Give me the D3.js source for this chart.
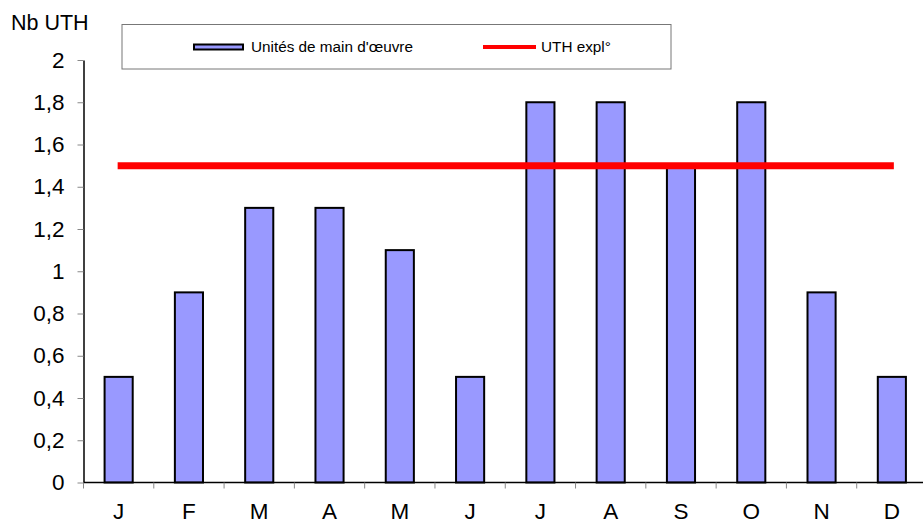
<!DOCTYPE html>
<html>
<head>
<meta charset="utf-8">
<script src="https://cdnjs.cloudflare.com/ajax/libs/d3/7.8.5/d3.min.js"></script>
<style>
  body { margin: 0; background: #fff; }
  text { font-family: "Liberation Sans", Arial, sans-serif; }
</style>
</head>
<body>
<script>
var months = ["J","F","M","A","M","J","J","A","S","O","N","D"];
var uth = [0.5, 0.9, 1.3, 1.3, 1.1, 0.5, 1.8, 1.8, 1.5, 1.8, 0.9, 0.5];
var uthExpl = 1.5;
var yTicks = [0, 0.2, 0.4, 0.6, 0.8, 1, 1.2, 1.4, 1.6, 1.8, 2];

function init() {
    var w = 923, h = 519;
    var pLeft = 83.5, pRight = 927, pTop = 60, pBottom = 482.5;

    var svg = d3.select("body").append("svg")
        .attr("width", w)
        .attr("height", h);

    var x = d3.scaleBand()
        .domain(d3.range(months.length))
        .range([pLeft, pRight])
        .paddingInner(0.6)
        .paddingOuter(0.3);
    var band = d3.scaleBand()
        .domain(d3.range(months.length))
        .range([pLeft, pRight]);
    var y = d3.scaleLinear().domain([0, 2]).range([pBottom, pTop]);

    // y axis
    var fmt = function(d) { return d3.format(".1~f")(d).replace(".", ","); };
    svg.append("g")
        .attr("transform", "translate(" + pLeft + ",0)")
        .call(d3.axisLeft(y).tickValues(yTicks).tickSize(6).tickSizeOuter(0).tickFormat(fmt))
        .call(function(g) {
            g.select(".domain").attr("stroke", "#000").attr("stroke-width", 1.5);
            g.selectAll(".tick line").attr("stroke", "#888");
            g.selectAll(".tick text").attr("font-size", 22.5).attr("x", -19)
                .attr("fill", "#000")
                .attr("font-family", "Liberation Sans, Arial, sans-serif");
        });

    // bars
    svg.selectAll("rect.bar")
        .data(uth)
        .enter().append("rect")
        .attr("class", "bar")
        .attr("x", function(d, i) { return x(i); })
        .attr("y", function(d) { return y(d); })
        .attr("width", x.bandwidth())
        .attr("height", function(d) { return pBottom - y(d); })
        .attr("fill", "#9999ff")
        .attr("stroke", "#000")
        .attr("stroke-width", 2);

    // x axis
    var ticksX = d3.range(months.length).map(function(i) { return band(i); });
    svg.append("line")
        .attr("x1", pLeft).attr("x2", pRight)
        .attr("y1", pBottom).attr("y2", pBottom)
        .attr("stroke", "#000").attr("stroke-width", 1.5);
    svg.selectAll("line.xt")
        .data(ticksX)
        .enter().append("line")
        .attr("class", "xt")
        .attr("x1", function(d) { return d; }).attr("x2", function(d) { return d; })
        .attr("y1", pBottom).attr("y2", pBottom + 6)
        .attr("stroke", "#888");
    svg.selectAll("text.xl")
        .data(months)
        .enter().append("text")
        .attr("class", "xl")
        .attr("x", function(d, i) { return band(i) + band.bandwidth() / 2; })
        .attr("y", 519)
        .attr("text-anchor", "middle")
        .attr("font-size", 22.5)
        .text(function(d) { return d; });

    // UTH expl line
    svg.append("line")
        .attr("x1", band(0) + band.bandwidth() / 2 - 1)
        .attr("x2", band(months.length - 1) + band.bandwidth() / 2 + 2)
        .attr("y1", y(uthExpl)).attr("y2", y(uthExpl))
        .attr("stroke", "#ff0000").attr("stroke-width", 7);

    // y title
    svg.append("text")
        .attr("x", 11).attr("y", 29.5)
        .attr("font-size", 21.5)
        .text("Nb UTH");

    // legend
    var lg = svg.append("g");
    lg.append("rect")
        .attr("x", 122).attr("y", 24.5).attr("width", 549).attr("height", 44.5)
        .attr("fill", "#fff").attr("stroke", "#777").attr("stroke-width", 1);
    lg.append("rect")
        .attr("x", 194).attr("y", 44.5).attr("width", 49).attr("height", 5)
        .attr("fill", "#9999ff").attr("stroke", "#000").attr("stroke-width", 2);
    lg.append("text")
        .attr("x", 251).attr("y", 51.5)
        .attr("font-size", 15.3)
        .text("Unités de main d'œuvre");
    lg.append("line")
        .attr("x1", 483).attr("x2", 536).attr("y1", 47).attr("y2", 47)
        .attr("stroke", "#ff0000").attr("stroke-width", 4);
    lg.append("text")
        .attr("x", 541).attr("y", 51.5)
        .attr("font-size", 15.3)
        .text("UTH expl°");
}
window.onload = init;
</script>
</body>
</html>
